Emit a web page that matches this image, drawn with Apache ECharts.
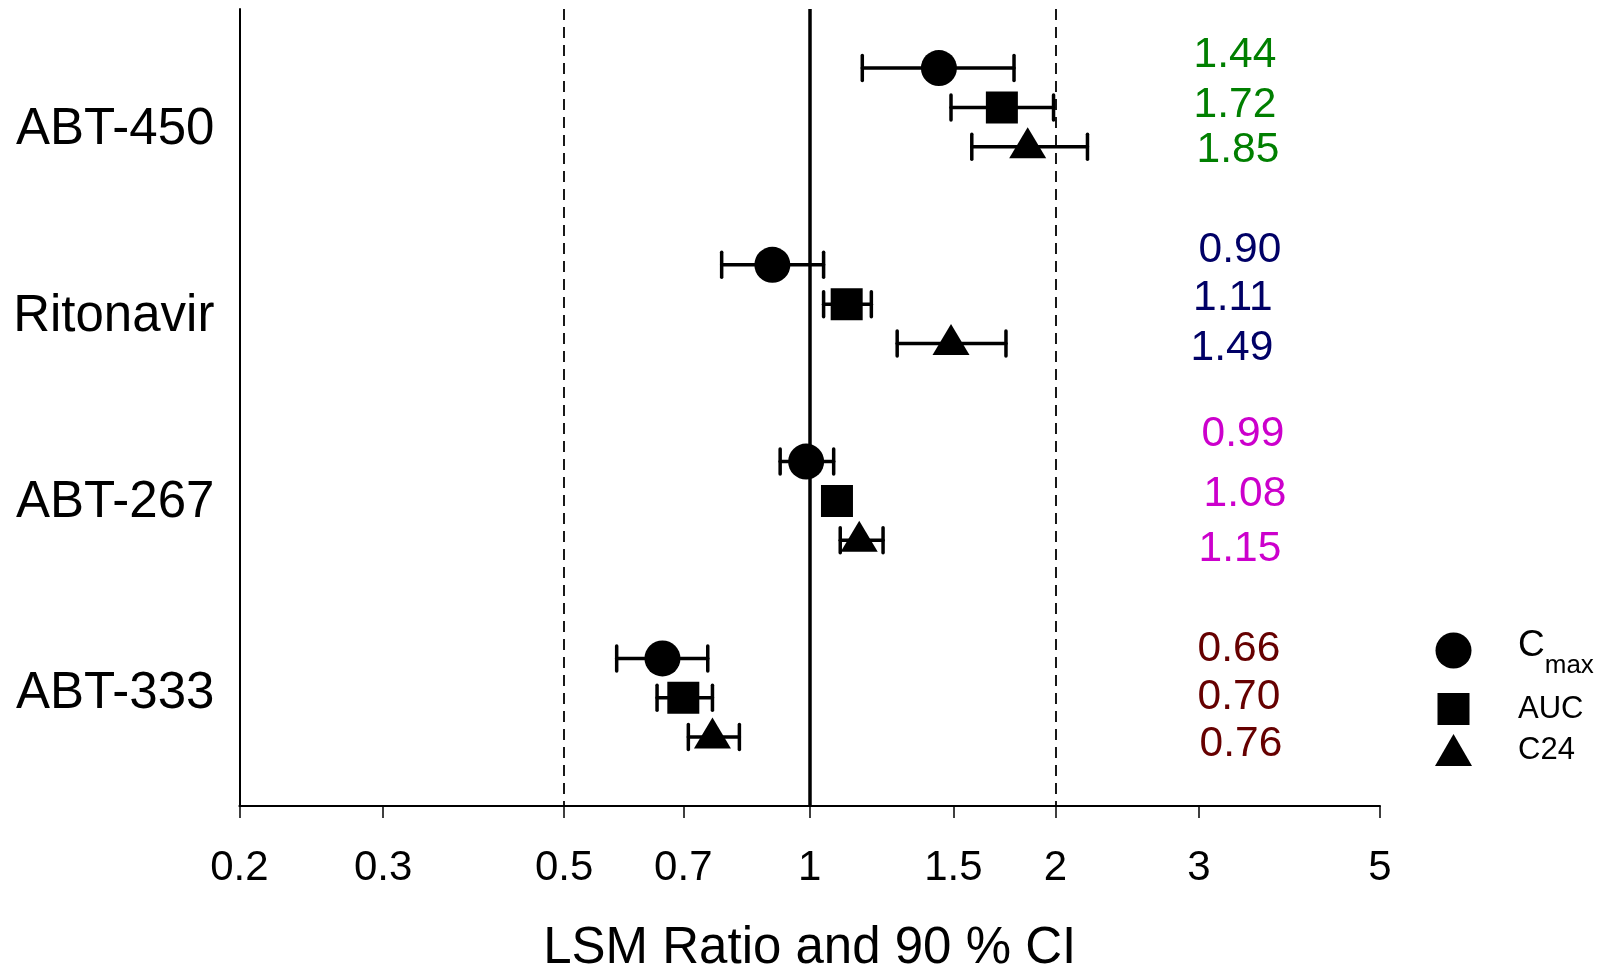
<!DOCTYPE html>
<html>
<head>
<meta charset="utf-8">
<script src="https://cdn.jsdelivr.net/npm/echarts@6/dist/echarts.min.js"></script>
<style>
  html, body { margin: 0; padding: 0; background: #fff; }
  #main { width: 1604px; height: 970px; }
</style>
</head>
<body>
<div id="main"></div>
<script>
// data
const drugs = ['ABT-450', 'Ritonavir', 'ABT-267', 'ABT-333']
const cmax = [1.44, 0.90, 0.99, 0.66]
const cmaxLow = [1.16, 0.78, 0.92, 0.58]
const cmaxHigh = [1.78, 1.04, 1.07, 0.75]
const auc = [1.72, 1.11, 1.08, 0.70]
const aucLow = [1.49, 1.04, 1.05, 0.65]
const aucHigh = [1.99, 1.19, 1.11, 0.76]
const c24 = [1.85, 1.49, 1.15, 0.76]
const c24Low = [1.58, 1.28, 1.09, 0.71]
const c24High = [2.19, 1.74, 1.23, 0.82]
const tickValues = [0.2, 0.3, 0.5, 0.7, 1, 1.5, 2, 3, 5]

// layout (rows in y-axis units, one group = 5 rows)
const groupStep = 5
const drugLabelOffset = [1.53, 1.28, 1.01, 0.85]
const valueLabelNudge = [
  [-0.37, -0.10, 0.04],
  [-0.43, -0.20, 0.07],
  [-0.75, -0.23, 0.17],
  [-0.29, -0.06, 0.13]
]
// small horizontal shifts of the value labels, px
const valueLabelDx = [
  [0, 0, 3],
  [5, -2, -3],
  [8, 10, 5],
  [4, 4, 6]
]
const valueLabelX = 3.32
const groupColors = ['#007f00', '#000066', '#cc00cc', '#660000']
const font = 'Liberation Sans, Arial, sans-serif'

const metrics = [
  { name: 'Cmax', val: cmax, low: cmaxLow, high: cmaxHigh, symbol: 'circle', size: 36, offset: [0, 0] },
  { name: 'AUC', val: auc, low: aucLow, high: aucHigh, symbol: 'rect', size: 32, offset: [0, 0] },
  { name: 'C24', val: c24, low: c24Low, high: c24High, symbol: 'triangle', size: [37, 31], offset: [0, -4] }
]

const rowY = (g, s) => g * groupStep + s

const chart = echarts.init(document.getElementById('main'))

const errorData = []
metrics.forEach((m, s) => {
  drugs.forEach((d, g) => errorData.push([m.low[g], m.high[g], rowY(g, s)]))
})

const valueLabels = []
drugs.forEach((d, g) => {
  metrics.forEach((m, s) => {
    valueLabels.push({
      value: [valueLabelX, rowY(g, s) + valueLabelNudge[g][s], m.val[g]],
      label: { color: groupColors[g], offset: [valueLabelDx[g][s], 2] }
    })
  })
})

const drugLabels = drugs.map((d, g) => ({ value: [0.2, g * groupStep + drugLabelOffset[g]], name: d }))

const series = [
  {
    type: 'custom',
    name: 'ci',
    data: errorData,
    encode: { x: [0, 1], y: 2 },
    z: 2,
    renderItem(params, api) {
      const y = api.value(2)
      const p1 = api.coord([api.value(0), y])
      const p2 = api.coord([api.value(1), y])
      const cap = 12.5
      const style = { stroke: '#000', lineWidth: 3.5, lineCap: 'round' }
      return {
        type: 'group',
        children: [
          { type: 'line', shape: { x1: p1[0], y1: p1[1], x2: p2[0], y2: p2[1] }, style },
          { type: 'line', shape: { x1: p1[0], y1: p1[1] - cap, x2: p1[0], y2: p1[1] + cap }, style },
          { type: 'line', shape: { x1: p2[0], y1: p2[1] - cap, x2: p2[0], y2: p2[1] + cap }, style }
        ]
      }
    },
    markLine: {
      silent: true,
      symbol: ['none', 'none'],
      label: { show: false },
      data: [
        { xAxis: 0.5, lineStyle: { color: '#000', width: 1.8, type: [11, 7] } },
        { xAxis: 1, lineStyle: { color: '#000', width: 3.5, type: 'solid' } },
        { xAxis: 2, lineStyle: { color: '#000', width: 1.8, type: [11, 7] } }
      ]
    }
  }
]

metrics.forEach((m, s) => {
  series.push({
    type: 'scatter',
    name: m.name,
    symbol: m.symbol,
    symbolSize: m.size,
    symbolOffset: m.offset,
    itemStyle: { color: '#000', opacity: 1 },
    z: 3,
    data: drugs.map((d, g) => [m.val[g], rowY(g, s)])
  })
})

series.push({
  type: 'scatter',
  name: 'values',
  symbolSize: 0,
  clip: false,
  itemStyle: { opacity: 1 },
  data: valueLabels,
  label: {
    show: true,
    position: 'inside',
    fontFamily: font,
    fontSize: 42.5,
    opacity: 1,
    formatter: p => p.value[2].toFixed(2)
  }
})

series.push({
  type: 'scatter',
  name: 'drugs',
  symbolSize: 0,
  clip: false,
  itemStyle: { opacity: 1 },
  data: drugLabels,
  label: {
    show: true,
    position: 'left',
    distance: 25,
    offset: [0, 2],
    color: '#000',
    opacity: 1,
    fontFamily: font,
    fontSize: 51,
    formatter: p => p.name
  }
})

const option = {
  backgroundColor: '#fff',
  animation: false,
  grid: { left: 239.4, right: 224, top: 9, bottom: 164, outerBoundsMode: 'none', containLabel: false },
  xAxis: {
    type: 'log',
    logBase: 10,
    min: 0.2,
    max: 5,
    name: 'LSM Ratio and 90 % CI',
    nameLocation: 'middle',
    nameGap: 117,
    nameTextStyle: { fontFamily: font, fontSize: 51, color: '#000' },
    axisLine: { onZero: false, lineStyle: { color: '#000', width: 2 } },
    axisTick: { customValues: tickValues, length: 12, lineStyle: { color: '#000', width: 1.5 } },
    axisLabel: {
      customValues: tickValues,
      margin: 41,
      fontFamily: font,
      fontSize: 42,
      color: '#000',
      formatter: v => String(v)
    },
    splitLine: { show: false },
    minorTick: { show: false }
  },
  yAxis: {
    type: 'value',
    inverse: true,
    min: -1.5,
    max: 18.75,
    axisLine: { show: true, onZero: false, lineStyle: { color: '#000', width: 2 } },
    axisTick: { show: false },
    axisLabel: { show: false },
    splitLine: { show: false }
  },
  legend: {
    data: [
      { name: 'Cmax', icon: 'circle' },
      { name: 'AUC', icon: 'path://M-2.5,-2M0,0h32v32h-32zM34.5,34' },
      { name: 'C24', icon: 'path://M0,32L18.5,0L37,32z' }
    ],
    orient: 'vertical',
    left: 1430,
    top: 622,
    itemWidth: 37,
    itemHeight: 36,
    itemGap: 7,
    selectedMode: false,
    textStyle: {
      fontFamily: font,
      fontSize: 31,
      color: '#000',
      padding: [0, 0, 0, 41],
      rich: {
        z: { fontSize: 8, lineHeight: 10 },
        c: { fontFamily: font, fontSize: 37, lineHeight: 20, color: '#000' },
        h: { fontFamily: font, fontSize: 37, lineHeight: 19, color: 'rgba(0,0,0,0)' },
        s: { fontFamily: font, fontSize: 26, lineHeight: 19, color: '#000' }
      }
    },
    formatter: name => name === 'Cmax' ? '{z| }\n{c|C}\n{h|C}{s|max}' : name
  },
  series
}

chart.setOption(option)
</script>
</body>
</html>
